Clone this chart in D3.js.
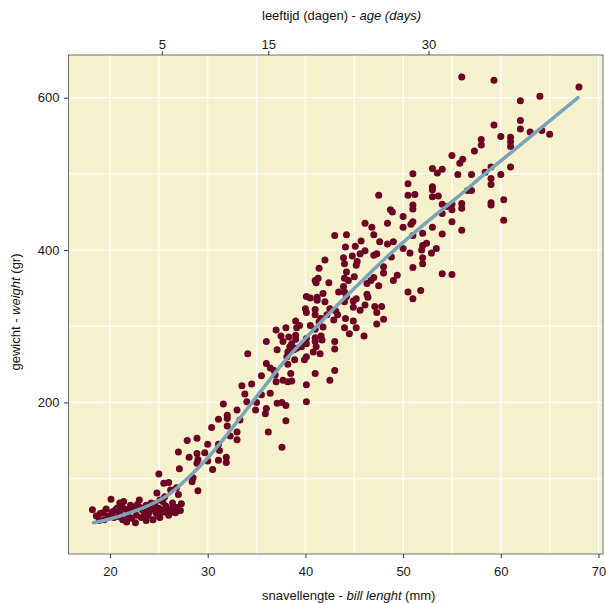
<!DOCTYPE html>
<html>
<head>
<meta charset="utf-8">
<script src="https://cdn.jsdelivr.net/npm/d3@7"></script>
<style>
  body { margin: 0; background: #fff; }
  svg { display: block; font-family: "Liberation Sans", Arial, Helvetica, sans-serif; }
</style>
</head>
<body>
<div id="chart"></div>
<script>
// bill length (mm), weight (gr) per chick
const chicks = [
  // small chicks, lower left
  [18.2,59],[18.6,51],[19.0,54],[19.6,60],[19.8,51],[20.1,73],[20.2,56],[20.4,49],[20.7,61],[21.0,68],
  [21.0,54],[21.3,46],[21.5,60],[21.8,53],[22.1,65],[22.2,48],[22.5,59],[22.7,52],[23.0,72],[23.1,62],
  [23.2,49],[23.5,56],[23.7,65],[23.9,52],[24.2,60],[24.4,46],[24.6,67],[24.7,55],[25.0,61],[25.1,49],
  [25.4,70],[25.5,56],[25.7,64],[26.0,52],[26.2,60],[26.4,68],[26.7,55],[26.9,62],[27.2,58],[27.3,67],
  [18.9,45],[19.4,46],[21.7,43],[22.6,42],[23.7,45],[25.0,106],[25.5,94],[26.0,95],[24.8,81],[25.6,76],
  [26.2,85],[26.8,88],[27.0,79],[25.1,72],[27.0,135],[27.1,113],
  [20.5,58],[21.2,63],[21.9,57],[22.3,62],[22.8,66],[23.3,59],[23.8,61],[24.0,56],[24.5,63],[24.9,52],
  [25.3,58],[25.8,60],[26.3,56],[22.0,49],[20.9,50],[19.3,55],[23.6,50],[26.5,63],[24.2,68],[21.4,70],
  // 28 - 38 mm
  [31.6,198],[32.0,183],[32.0,179],[33.0,190],[34.0,201],[34.9,190],[35.9,185],[36.0,192],[37.1,199],[38.0,196],
  [38.0,176],[36.2,161],[37.6,141],[31.1,178],[30.4,167],[32.0,169],[33.0,161],[32.3,156],[33.0,151],[27.9,150],
  [28.9,153],[30.0,145],[31.1,145],[31.2,137],[28.1,128],[28.9,133],[29.0,125],[29.7,134],[30.0,123],[28.9,120],
  [31.1,124],[31.9,128],[31.9,121],[30.5,112],[28.5,101],[28.4,96],[29.0,84],
  [33.3,177],[35.0,200],[37.6,200],[36.9,236],
  // middle of the cloud
  [46.1,435],[46.8,430],[43.0,419],[44.2,420],[47.0,420],[44.1,404],[45.1,405],[45.7,412],[46.1,399],[44.8,392],
  [45.6,395],[47.0,393],[47.3,395],[43.9,390],[44.0,382],[42.0,387],[41.4,376],[45.3,385],[45.2,380],[44.2,371],
  [44.4,360],[42.4,357],[41.0,360],[41.3,363],[41.1,357],[45.0,365],[47.5,353],[47.0,364],[44.0,363],[41.8,343],
  [42.0,332],[40.1,339],[40.5,337],[41.2,338],[44.0,345],[44.2,339],[44.9,333],[45.2,336],[46.3,342],[46.4,338],
  [47.3,318],[48.0,309],[47.3,303],[46.0,287],[40.0,323],[40.1,318],[41.0,322],[41.0,315],[41.6,310],[42.2,315],
  [42.5,323],[43.1,320],[43.3,315],[42.9,308],[44.0,332],[44.9,325],[45.6,321],[44.1,310],[44.0,298],[44.5,290],
  [43.0,280],[43.0,270],[41.8,299],[41.7,282],[41.6,287],[41.0,285],[41.0,280],[41.1,273],[39.0,307],[39.4,301],
  [39.1,298],[40.5,301],[41.0,296],[37.0,295],[38.0,298],[37.5,287],[38.3,286],[39.0,288],[39.0,283],[40.1,284],
  [40.1,277],[38.6,277],[36.0,280],[37.1,269],[37.7,280],[38.2,266],[38.4,273],[39.6,273],[40.1,260],[40.8,266],
  [41.5,264],[34.1,264],[36.0,251],[36.4,245],[36.8,242],[38.2,250],[38.5,238],[38.9,256],[39.9,256],[41.0,238],
  [43.0,242],[42.5,229],[33.5,222],[34.5,224],[35.5,235],[37.0,227],[37.7,229],[38.2,227],[38.6,228],[40.1,223],
  [33.8,211],[35.5,210],[36.4,212],[40.1,201],[47.5,472],
  [43.9,352],[46.7,360],[46.3,356],[46.1,328],[47.1,326],[44.9,307],[45.2,298],[41.4,306],[41.2,334],[43.4,345],
  [38.1,260],[39.1,271],[38.8,269],
  // large chicks, upper right
  [56.0,627],[59.3,623],[68.0,614],[64.0,602],[62.0,596],[59.3,564],[62.0,570],[62.0,559],[63.0,555],[64.2,557],
  [65.0,552],[60.0,549],[61.0,548],[61.0,542],[61.0,536],[58.0,545],[58.0,538],[57.3,530],[55.0,524],[56.1,519],
  [55.8,514],[53.0,507],[54.0,506],[53.5,501],[51.0,500],[55.6,499],[57.0,499],[58.4,502],[59.0,509],[60.0,499],
  [61.0,509],[50.5,487],[53.0,483],[53.0,479],[59.0,494],[59.0,486],[56.6,478],[57.0,478],[50.5,472],[51.2,473],
  [53.0,470],[53.6,471],[54.0,460],[54.5,457],[55.0,460],[55.0,453],[56.0,461],[56.0,455],[48.7,453],[48.9,450],
  [51.0,459],[51.0,454],[59.0,462],[59.0,459],[60.3,466],[50.0,444],[54.0,448],[48.4,435],[51.0,437],[50.8,434],
  [50.0,430],[53.0,430],[55.0,437],[60.3,439],[56.0,426],[52.0,422],[54.0,421],[48.4,408],[49.0,411],[47.6,411],
  [51.0,419],[50.0,402],[50.7,396],[52.0,406],[52.4,409],[51.9,400],[52.0,390],[52.0,382],[52.9,396],[53.4,402],
  [48.8,391],[48.0,378],[48.0,370],[51.0,377],[49.4,367],[49.0,360],[54.0,369],[55.0,368],[50.5,345],[51.8,347],
  [51.0,336],[47.8,326]
];

// fitted growth curve
const fitBill   = [18.3, 20, 22, 24, 26, 28, 30, 32, 34, 36, 38, 40, 42, 44, 46, 48, 50, 52, 54, 56, 58, 60, 62, 64, 66, 67.9];
const fitWeight = [42, 47, 55, 65, 79, 101, 127, 158, 191, 224, 256, 284, 311, 337, 362, 387, 410, 432, 453, 474, 496, 517, 538, 559, 580, 600];

const xTicks = [20, 30, 40, 50, 60, 70];
const xGrid = [20, 25, 30, 35, 40, 45, 50, 55, 60, 65, 70];
const yTicks = [200, 400, 600];
const yGrid = [100, 200, 300, 400, 500, 600];
// secondary axis: age (days) and the bill length it sits at
const ageTicks = [5, 15, 30];
const ageAtBill = [25.3, 36.2, 52.6];

const width = 607, height = 603;
const panel = { left: 68.5, right: 603, top: 55, bottom: 554 };

const x = d3.scaleLinear().domain([15.75, 70.46]).range([panel.left, panel.right]);
const y = d3.scaleLinear().domain([1, 656]).range([panel.bottom, panel.top]);

const svg = d3.select("#chart").append("svg")
    .attr("width", width)
    .attr("height", height);

svg.append("rect")
    .attr("x", panel.left).attr("y", panel.top)
    .attr("width", panel.right - panel.left)
    .attr("height", panel.bottom - panel.top)
    .attr("fill", "#f6f1cd");

const grid = svg.append("g").attr("stroke", "#fff").attr("stroke-width", 1.3);
grid.selectAll("line.v").data(xGrid).join("line")
    .attr("class", "v")
    .attr("x1", d => x(d)).attr("x2", d => x(d))
    .attr("y1", panel.top).attr("y2", panel.bottom);
grid.selectAll("line.h").data(yGrid).join("line")
    .attr("class", "h")
    .attr("x1", panel.left).attr("x2", panel.right)
    .attr("y1", d => y(d)).attr("y2", d => y(d));

svg.append("g")
    .selectAll("circle")
    .data(chicks)
    .join("circle")
    .attr("cx", d => x(d[0]))
    .attr("cy", d => y(d[1]))
    .attr("r", 3.5)
    .attr("fill", "#6c0424");

const line = d3.line()
    .x(d => x(d[0]))
    .y(d => y(d[1]))
    .curve(d3.curveMonotoneX);

svg.append("path")
    .datum(fitBill.map((b, i) => [b, fitWeight[i]]))
    .attr("d", line)
    .attr("fill", "none")
    .attr("stroke", "#7ba4b8")
    .attr("stroke-width", 3.5)
    .attr("stroke-linecap", "round");

svg.append("rect")
    .attr("x", panel.left).attr("y", panel.top)
    .attr("width", panel.right - panel.left)
    .attr("height", panel.bottom - panel.top)
    .attr("fill", "none")
    .attr("stroke", "#6e6e6e")
    .attr("stroke-width", 1);

const styleAxis = g => {
    g.select(".domain").remove();
    g.selectAll(".tick line").attr("stroke", "#333");
    g.selectAll(".tick text").attr("fill", "#1a1a1a").attr("font-size", 13);
};

svg.append("g")
    .attr("transform", `translate(0,${panel.bottom})`)
    .call(d3.axisBottom(x).tickValues(xTicks).tickSize(4).tickPadding(9))
    .call(styleAxis);

svg.append("g")
    .attr("transform", `translate(${panel.left},0)`)
    .call(d3.axisLeft(y).tickValues(yTicks).tickSize(4.5).tickPadding(4.5))
    .call(styleAxis);

svg.append("g")
    .attr("transform", `translate(0,${panel.top})`)
    .call(d3.axisTop(x).tickValues(ageAtBill).tickFormat((d, i) => ageTicks[i]).tickSize(4).tickPadding(2.5))
    .call(styleAxis);

// axis titles
const topTitle = svg.append("text")
    .attr("x", 262).attr("y", 19.5)
    .attr("font-size", 13).attr("fill", "#111");
topTitle.append("tspan").text("leeftijd (dagen) - ");
topTitle.append("tspan").attr("font-style", "italic").text("age (days)");

const bottomTitle = svg.append("text")
    .attr("x", 262).attr("y", 599.5)
    .attr("font-size", 13).attr("fill", "#111");
bottomTitle.append("tspan").text("snavellengte - ");
bottomTitle.append("tspan").attr("font-style", "italic").text("bill lenght");
bottomTitle.append("tspan").text(" (mm)");

const leftTitle = svg.append("text")
    .attr("transform", "translate(19.5,312) rotate(-90)")
    .attr("text-anchor", "middle")
    .attr("font-size", 13).attr("fill", "#111");
leftTitle.append("tspan").text("gewicht - ");
leftTitle.append("tspan").attr("font-style", "italic").text("weight");
leftTitle.append("tspan").text(" (gr)");
</script>
</body>
</html>
